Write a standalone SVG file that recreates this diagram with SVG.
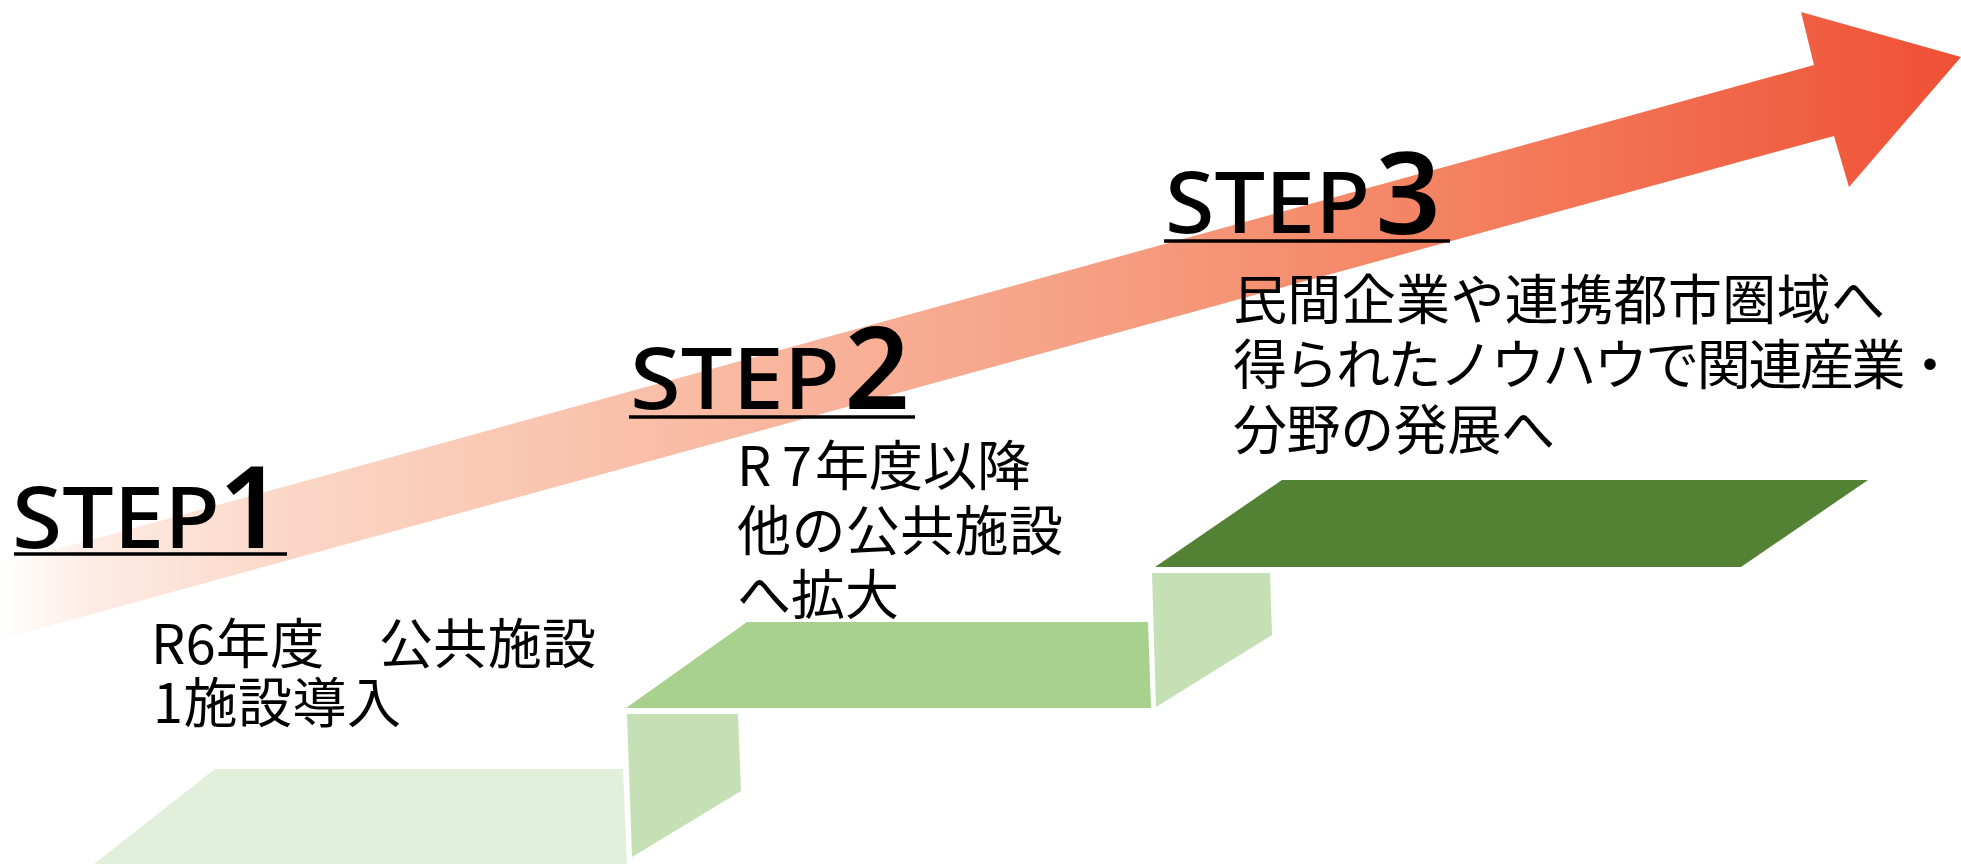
<svg xmlns="http://www.w3.org/2000/svg" width="1961" height="864" viewBox="0 0 1961 864">
<defs>
<linearGradient id="arrowGrad" gradientUnits="userSpaceOnUse" x1="0" y1="0" x2="1961" y2="0">
<stop offset="0" stop-color="#FFFFFF"/>
<stop offset="0.05" stop-color="#FDEBE3"/>
<stop offset="0.15" stop-color="#FBD6C6"/>
<stop offset="0.35" stop-color="#F9BCA5"/>
<stop offset="0.55" stop-color="#F6A084"/>
<stop offset="0.75" stop-color="#F3805F"/>
<stop offset="1" stop-color="#EF5035"/>
</linearGradient>
<style>
.word{font-family:"Noto Sans","Liberation Sans",sans-serif;font-weight:500;font-size:85px;fill:#000}
.num{font-family:"Noto Sans","Liberation Sans",sans-serif;font-weight:600;font-size:114px;fill:#000}
.uline{stroke:#000;stroke-width:3.3}
.body{font-family:"Noto Sans CJK JP","Noto Sans",sans-serif;font-weight:400;font-size:54px;fill:#000}
.s1{fill:#E2EFDA}
.s2{fill:#A9D18E}
.s3{fill:#548235}
.riser{fill:#C5E0B4}
</style>
</defs>
<rect width="1961" height="864" fill="#FFFFFF"/>
<g id="arrow">
<polygon points="0,565 1814,65 1801,12 1961,57 1849,187 1834,136 12,636 0,639" fill="url(#arrowGrad)"/>
</g>
<g id="step1-platform"><polygon class="s1" points="215,769 623,769 627,864 94,864"/></g>
<g id="riser1"><polygon class="riser" points="627,714 738,714 741,791 632,857"/></g>
<g id="step2-platform"><polygon class="s2" points="747,622 1148,622 1151,708 626,708"/></g>
<g id="riser2"><polygon class="riser" points="1152,573 1270,573 1272,635 1156,707"/></g>
<g id="step3-platform"><polygon class="s3" points="1282,480 1868,480 1741,567 1155,567"/></g>
<g id="step1-label">
<text class="word" x="12" y="548" textLength="208" lengthAdjust="spacingAndGlyphs">STEP</text>
<text class="num" x="251" y="548" text-anchor="middle">1</text>
<line class="uline" x1="14" y1="554" x2="287" y2="554"/>
</g>
<g id="step2-label">
<text class="word" x="630" y="409" textLength="210" lengthAdjust="spacingAndGlyphs">STEP</text>
<text class="num" x="877" y="409" text-anchor="middle">2</text>
<line class="uline" x1="629" y1="417" x2="915" y2="417"/>
</g>
<g id="step3-label">
<text class="word" x="1165" y="233" textLength="205" lengthAdjust="spacingAndGlyphs">STEP</text>
<text class="num" x="1408" y="234" text-anchor="middle">3</text>
<line class="uline" x1="1164" y1="241" x2="1450" y2="241"/>
</g>
<g id="step1-text">
<text class="body" x="151" y="664" textLength="445" lengthAdjust="spacing">R6年度　公共施設</text>
<text class="body" x="153" y="723" textLength="248" lengthAdjust="spacing">1施設導入</text>
</g>
<g id="step2-text">
<text class="body" y="486"><tspan x="737">R</tspan><tspan x="782">7</tspan><tspan x="815">年度以降</tspan></text>
<text class="body" x="737" y="551" textLength="326" lengthAdjust="spacing">他の公共施設</text>
<text class="body" x="737" y="615" textLength="162" lengthAdjust="spacing">へ拡大</text>
</g>
<g id="step3-text">
<text class="body" x="1233" y="320" textLength="652" lengthAdjust="spacing">民間企業や連携都市圏域へ</text>
<text class="body" x="1233" y="385" textLength="724" lengthAdjust="spacing">得られたノウハウで関連産業・</text>
<text class="body" x="1233" y="450" textLength="322" lengthAdjust="spacing">分野の発展へ</text>
</g>
</svg>
